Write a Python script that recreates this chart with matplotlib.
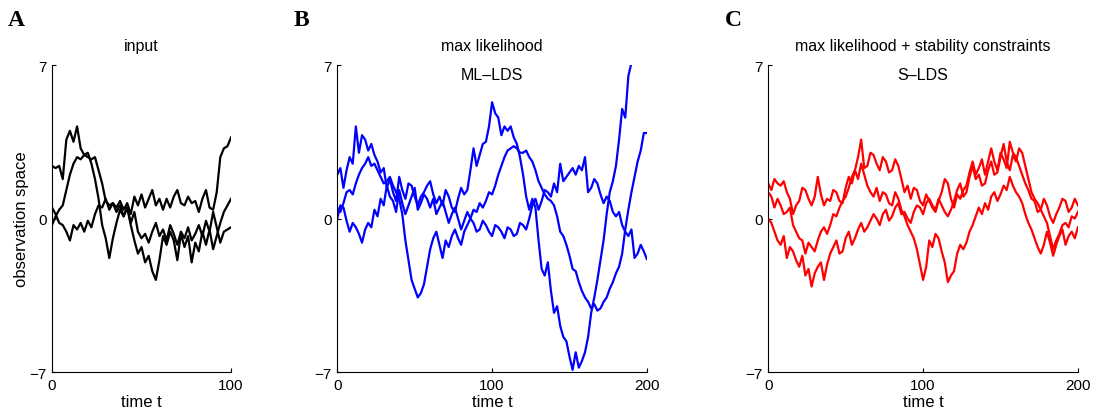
import numpy as np
import matplotlib
matplotlib.use("Agg")
import matplotlib.pyplot as plt

## data (3 sequences per panel)
t_input = np.arange(0, 101, 2)
t_model = np.arange(0, 201, 2)

input_1 = [2.4, 2.3, 2.4, 1.8, 3.6, 4.0, 3.5, 4.2, 3.2, 2.9, 2.8, 2.7, 2.8, 2.2, 1.6, 0.8, 0.6,
           0.7, 0.5, 0.8, 0.4, 0.7, 0.2, 1.0, 0.6, 1.1, 0.5, 0.9, 1.3, 0.6, 0.9, 0.4, 0.9, 0.5,
           1.0, 1.3, 0.7, 0.6, 1.0, 0.7, 0.8, 0.3, 0.9, 1.3, 0.5, 0.4, 1.2, 2.8, 3.2, 3.3, 3.7]
input_2 = [0.5, 0.2, -0.2, -0.3, -0.6, -1.0, -0.3, -0.5, -0.2, -0.6, -0.1, -0.4, 0.2, 0.6, 0.5,
           0.9, 0.4, 0.7, 0.3, 0.6, 0.1, 0.5, -0.2, 0.3, -0.6, -0.9, -0.7, -1.1, -0.6, -0.2,
           -0.8, -0.5, -1.0, -0.3, -0.7, -1.2, -0.6, -0.9, -0.4, -1.0, -0.7, -0.3, -0.8, -0.1,
           -0.6, 0.3, -0.4, -1.1, -0.6, -0.5, -0.4]
input_3 = [-0.3, 0.1, 0.4, 0.6, 1.3, 2.0, 2.5, 2.8, 2.7, 2.9, 3.0, 2.5, 1.8, 0.9, -0.3, -0.9,
           -1.8, -0.9, -0.2, 0.4, 0.1, 0.5, -0.3, -1.0, -1.6, -1.3, -2.0, -1.7, -2.4, -2.8,
           -1.9, -0.8, -1.2, -0.6, -1.0, -1.9, -0.7, -1.3, -0.8, -2.0, -1.1, -1.5, -0.6, -1.2,
           -0.5, -1.4, -0.8, -0.2, 0.3, 0.6, 0.9]

ml_1 = [2.0, 2.3, 1.4, 2.2, 2.8, 2.5, 4.2, 3.0, 3.8, 3.6,
        3.1, 3.4, 2.9, 2.6, 2.1, 2.3, 1.4, 1.8, 1.2, 0.8,
        1.9, 1.3, 0.9, 1.6, 1.5, 1.0, 0.6, 1.0, 1.2, 1.5,
        1.7, 1.1, 0.7, 1.0, 0.6, 1.3, 1.0, 0.5, 0.3, 0.9,
        1.4, 1.1, 1.3, 2.2, 3.2, 2.4, 2.9, 3.4, 3.5, 4.2,
        5.3, 4.8, 4.6, 3.8, 4.2, 4.0, 4.2, 3.7, 3.4, 2.8,
        2.0, 1.0, 0.4, 0.9, 0.5, -1.0, -2.3, -2.6, -2.0, -3.3,
        -4.3, -4.0, -4.9, -5.4, -5.6, -6.3, -6.9, -6.1, -6.8, -6.5,
        -6.1, -5.4, -4.3, -3.6, -2.8, -1.9, -1.0, 0.2, 1.2, 1.7,
        2.4, 3.6, 5.0, 4.6, 6.5, 7.1, 7.6, 8.0, 8.5, 8.8, 9.0]
ml_2 = [0.5, 0.3, 0.7, 1.2, 1.3, 1.1, 1.6, 2.0, 2.3, 2.5,
        2.8, 2.4, 2.5, 2.2, 1.9, 1.6, 1.7, 1.9, 1.5, 1.2,
        0.9, 0.2, -1.0, -1.9, -2.8, -3.2, -3.6, -3.4, -3.0, -2.2,
        -1.4, -0.9, -0.6, -1.2, -1.8, -1.0, -1.3, -0.8, -0.5, -0.9,
        -1.2, -0.6, -0.3, 0.0, 0.4, 0.3, 0.7, 0.5, 0.8, 1.2,
        1.1, 1.5, 2.0, 2.4, 2.8, 3.1, 3.2, 3.3, 3.2, 3.0,
        3.0, 3.1, 2.8, 2.6, 2.2, 1.7, 1.4, 1.1, 0.9, 0.8,
        0.6, 0.1, -0.6, -0.8, -1.2, -1.7, -2.3, -2.4, -2.9, -3.3,
        -3.6, -3.8, -4.1, -3.9, -4.2, -4.1, -3.8, -3.6, -3.2, -2.9,
        -2.5, -2.2, -1.6, -0.5, 0.4, 1.2, 1.9, 2.6, 3.1, 3.9, 3.9]
ml_3 = [0.0, 0.6, 0.5, -0.1, -0.6, -0.2, -0.4, -0.7, -1.1, -0.5,
        -0.2, -0.4, 0.4, 0.1, 0.9, 0.6, 1.5, 1.0, 0.8, 0.3,
        1.3, 0.7, 0.2, 0.6, 1.0, 1.4, 0.4, 0.7, 1.1, 0.9,
        0.5, 0.9, 0.2, 0.5, 0.8, 0.3, -0.2, 0.2, 0.5, 0.0,
        -0.5, -0.1, 0.3, 0.0, -0.2, -0.6, -0.5, -0.1, -0.3, -0.6,
        -0.8, -0.3, -0.4, -0.6, -0.9, -0.4, -0.5, -0.8, -0.7, -0.2,
        -0.3, -0.5, 0.0, 0.6, 0.9, 0.4, 0.8, 1.3, 1.2, 1.0,
        1.6, 1.2, 2.5, 1.7, 1.9, 2.1, 2.3, 2.0, 2.4, 2.2,
        2.8, 1.2, 1.4, 1.8, 1.6, 1.1, 0.7, 1.0, 0.8, 0.3,
        0.1, 0.3, -0.3, -0.6, -0.8, -0.5, -1.8, -1.6, -1.2, -1.5, -1.85]

s_1 = [1.6, 1.3, 1.8, 1.6, 1.5, 1.7, 1.2, 0.9, 0.2, 0.6,
       0.8, 1.4, 1.3, 0.9, 0.6, 1.0, 1.9, 1.1, 0.6, 0.9,
       0.8, 1.3, 1.2, 0.8, 0.7, 1.4, 1.9, 1.6, 2.2, 2.8,
       3.6, 2.3, 2.4, 3.0, 2.9, 2.5, 2.2, 2.8, 2.6, 2.1,
       2.2, 2.7, 2.4, 1.8, 1.2, 1.5, 0.9, 1.4, 1.3, 0.8,
       0.6, 1.1, 0.8, 0.5, 0.3, 0.8, 1.2, 1.8, 1.6, 0.9,
       0.5, 1.1, 0.9, 1.3, 1.5, 2.1, 2.6, 2.0, 2.3, 2.7,
       2.0, 2.6, 3.2, 2.6, 2.2, 3.0, 2.7, 2.3, 3.5, 3.0,
       2.8, 2.4, 2.0, 1.6, 1.3, 0.9, 0.8, 0.3, 0.4, 0.9,
       0.6, 0.1, -0.2, 0.2, 0.5, 0.9, 0.8, 0.3, 0.5, 0.9, 0.6]
s_2 = [1.2, 1.0, 0.5, 0.9, 0.6, 0.2, 0.3, 0.5, -0.3, -0.6,
       -0.9, -1.0, -1.6, -1.1, -1.3, -1.5, -1.0, -0.6, -0.4, -0.7,
       -0.3, 0.2, 0.1, 0.5, 0.8, 1.0, 1.4, 1.9, 2.2, 1.8,
       2.5, 2.0, 1.5, 1.2, 1.0, 1.4, 0.8, 1.2, 1.1, 0.7,
       0.6, 1.2, 0.9, 0.4, 0.1, -0.3, -0.6, -0.9, -1.4, -2.1,
       -2.8, -2.2, -1.0, -1.3, -0.7, -0.9, -1.5, -2.0, -2.9, -2.6,
       -2.4, -1.6, -1.2, -1.4, -1.1, -0.6, -0.3, 0.1, 0.5, 0.2,
       0.7, 0.4, 1.0, 1.2, 0.8, 1.1, 1.5, 1.3, 1.9, 1.5,
       1.2, 1.0, 0.7, 0.2, -0.2, -0.5, -0.9, -1.3, -1.6, -1.2,
       -0.6, -1.1, -1.7, -1.2, -0.8, -0.5, -1.2, -0.8, -0.6, -0.9, -0.4]
s_3 = [0.0, -0.2, -0.6, -1.0, -1.2, -0.8, -1.8, -1.3, -1.5, -1.9,
       -2.2, -1.7, -2.6, -2.3, -3.1, -2.5, -2.2, -2.0, -2.8, -2.1,
       -1.6, -1.3, -1.0, -1.6, -1.5, -0.9, -0.6, -1.2, -0.9, -0.5,
       -0.2, -0.6, -0.4, -0.1, 0.2, 0.0, -0.3, 0.2, 0.4, -0.1,
       0.1, 0.5, 0.7, 0.2, 0.3, 0.0, -0.2, 0.3, 0.6, 0.5,
       0.2, 0.7, 0.9, 0.6, 0.4, 0.9, 0.6, 0.3, 0.1, 0.4,
       0.8, 1.3, 1.6, 1.0, 1.2, 1.9, 2.4, 1.8, 2.0, 1.5,
       1.6, 2.2, 2.6, 2.0, 2.1, 2.8, 3.4, 2.6, 2.2, 2.9,
       2.6, 3.2, 3.0, 2.4, 1.8, 1.2, 0.9, 0.7, 0.4, 0.1,
       -0.2, -0.8, -1.4, -1.0, -0.7, -0.3, -0.2, -0.4, 0.1, 0.0, 0.3]

plt.rcParams['font.family'] = ['Liberation Sans', 'DejaVu Sans']

fig = plt.figure(figsize=(10.95, 4.14), dpi=100)

panels = [
    # letter, title lines, x data, series, colour, x ticks, left, width
    ("A", ["input"], t_input, [input_1, input_2, input_3], "black", [0, 100], 0.0475, 0.1635),
    ("B", ["max likelihood", "ML\u2013LDS"], t_model, [ml_1, ml_2, ml_3], "blue", [0, 100, 200], 0.308, 0.2828),
    ("C", ["max likelihood + stability constraints", "S\u2013LDS"], t_model, [s_1, s_2, s_3], "red", [0, 100, 200], 0.7016, 0.2828),
]

for letter, titles, t, series, col, xt, left, width in panels:
    ax = fig.add_axes([left, 0.099, width, 0.7415])
    for y in series:
        ax.plot(t, y, color=col, lw=1.6)
    ax.set_xlim(xt[0], xt[-1])
    ax.set_ylim(-7, 7)
    ax.set_xticks(xt)
    ax.set_yticks([-7, 0, 7])
    ax.spines['top'].set_visible(False)
    ax.spines['right'].set_visible(False)
    ax.spines['left'].set_linewidth(0.8)
    ax.spines['bottom'].set_linewidth(0.8)
    ax.tick_params(direction='in', length=3, width=0.8, labelsize=11, pad=4)
    ax.set_xlabel("time t", fontsize=12, labelpad=2)

    ax.text(0.5, 1.065, titles[0], transform=ax.transAxes, ha='center', va='center', fontsize=11.5)
    if len(titles) > 1:
        ax.text(0.5, 0.97, titles[1], transform=ax.transAxes, ha='center', va='center', fontsize=11.5)

    # panel letter
    fig.text(left - 0.04, 0.95, letter, family='Liberation Serif', fontweight='bold',
             fontsize=17, ha='left', va='center')

    if letter == "A":
        ax.set_ylabel("observation space", fontsize=12, labelpad=0)

plt.savefig("out.png", dpi=100)
